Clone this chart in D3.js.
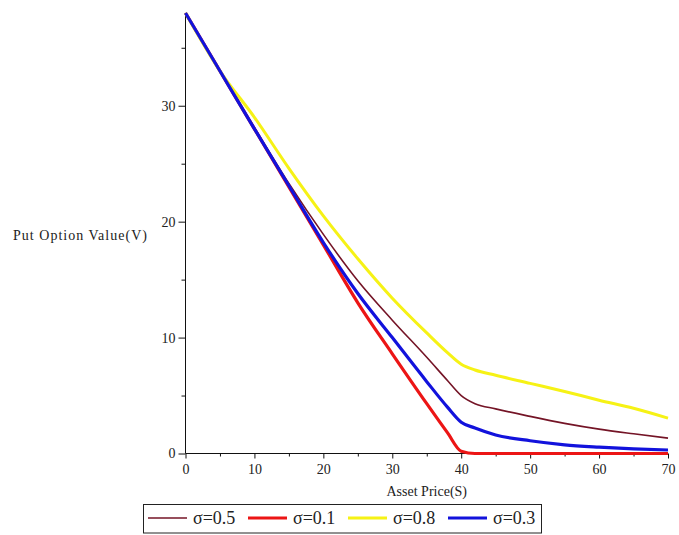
<!DOCTYPE html>
<html>
<head>
<meta charset="utf-8">
<script src="https://cdn.jsdelivr.net/npm/d3@7"></script>
<style>
  body { margin: 0; background: #fff; }
  svg { display: block; }
  text { font-family: "Liberation Serif", "Times New Roman", Times, serif; fill: #222; }
</style>
</head>
<body>
<svg id="chart" width="679" height="535"></svg>
<script>
// asset price grid and put values
const assetPrice = [0, 5, 10, 15, 20, 25, 30, 35, 38, 40, 42, 45, 50, 55, 60, 65, 70];
const sigma05 = [38, 33, 28.1, 23.3, 18.9, 14.9, 11.5, 8.3, 6.3, 5.0, 4.3, 3.85, 3.2, 2.6, 2.1, 1.7, 1.33];
const sigma01 = [38, 33, 28, 23, 18, 13, 8.6, 4.3, 1.8, 0.2, 0, 0, 0, 0, 0, 0, 0];
const sigma08 = [38, 33, 29.0, 24.6, 20.5, 16.8, 13.4, 10.4, 8.7, 7.7, 7.2, 6.75, 6.05, 5.35, 4.6, 3.9, 3.05];
const sigma03 = [38, 33, 28, 23.1, 18.2, 13.8, 10.0, 6.2, 4.0, 2.7, 2.2, 1.6, 1.1, 0.75, 0.55, 0.4, 0.3];

const seriesNames = ["σ=0.5", "σ=0.1", "σ=0.8", "σ=0.3"];
const seriesValues = [sigma05, sigma01, sigma08, sigma03];
const seriesColors = ["#741426", "#ec1515", "#f6f215", "#1212dc"];
const seriesWidths = [1.6, 3.2, 3, 3.2];

const xMajor = [0, 10, 20, 30, 40, 50, 60, 70];
const xMinor = [5, 15, 25, 35, 45, 55, 65];
const yMajor = [0, 10, 20, 30];
const yMinor = [5, 15, 25, 35];

const serif = "'Liberation Serif', 'Times New Roman', Times, serif";
const margins = { top: 13, left: 185.5, right: 11, bottom: 81.5 };
const W = 679, H = 535;

const svg = d3.select("#chart");

const x = d3.scaleLinear().domain([0, 70]).range([margins.left, W - margins.right]);
const y = d3.scaleLinear().domain([0, 38]).range([H - margins.bottom, margins.top]);

// axes
const xAxis = svg.append("g").attr("transform", `translate(0,${y(0)})`)
    .call(d3.axisBottom(x).tickValues(xMajor).tickSize(5).tickPadding(6).tickFormat(d3.format("d")));
svg.append("g").attr("transform", `translate(0,${y(0)})`)
    .call(d3.axisBottom(x).tickValues(xMinor).tickSize(3).tickFormat(""))
    .select(".domain").remove();

const yAxis = svg.append("g").attr("transform", `translate(${x(0)},0)`)
    .call(d3.axisLeft(y).tickValues(yMajor).tickSize(7).tickPadding(3).tickFormat(d3.format("d")));
svg.append("g").attr("transform", `translate(${x(0)},0)`)
    .call(d3.axisLeft(y).tickValues(yMinor).tickSize(4).tickFormat(""))
    .select(".domain").remove();

xAxis.select(".domain").attr("d", `M${x(0)},0H${x(70)}`);
yAxis.select(".domain").attr("d", `M0,${y(0)}V${y(38)}`);

svg.selectAll("g").attr("font-family", serif);
svg.selectAll(".tick line, .domain").attr("stroke", "#111").attr("stroke-width", 1);
svg.selectAll(".tick text")
    .attr("font-family", serif)
    .style("font-size", "14px")
    .attr("fill", "#333");

// axis titles
svg.append("text")
    .attr("x", x(35))
    .attr("y", 496)
    .attr("text-anchor", "middle")
    .attr("font-family", serif)
    .style("font-size", "14px")
    .text("Asset Price(S)");

svg.append("text")
    .attr("x", 13)
    .attr("y", 240)
    .attr("textLength", 134)
    .attr("lengthAdjust", "spacing")
    .attr("font-family", serif)
    .style("font-size", "14px")
    .text("Put Option Value(V)");

// curves
const line = d3.line()
    .x((d, i) => x(assetPrice[i]))
    .y(d => y(d))
    .curve(d3.curveMonotoneX);

svg.append("g")
    .selectAll("path")
    .data(seriesValues)
    .enter()
    .append("path")
    .attr("fill", "none")
    .attr("stroke", (d, i) => seriesColors[i])
    .attr("stroke-width", (d, i) => seriesWidths[i])
    .attr("stroke-linejoin", "round")
    .attr("d", line);

// legend
const legend = svg.append("g");
legend.append("rect")
    .attr("x", 143.5).attr("y", 504.5)
    .attr("width", 398).attr("height", 28.5)
    .attr("fill", "none").attr("stroke", "#222");

const items = legend.selectAll("g.item")
    .data(seriesNames)
    .enter()
    .append("g")
    .attr("class", "item")
    .attr("transform", (d, i) => `translate(${145 + i * 100},518)`);

items.append("line")
    .attr("x1", 3).attr("x2", 42)
    .attr("stroke", (d, i) => seriesColors[i])
    .attr("stroke-width", (d, i) => seriesWidths[i]);

items.append("text")
    .attr("x", 48)
    .attr("y", 6)
    .attr("font-family", serif)
    .style("font-size", "18px")
    .text(d => d);
</script>
</body>
</html>
